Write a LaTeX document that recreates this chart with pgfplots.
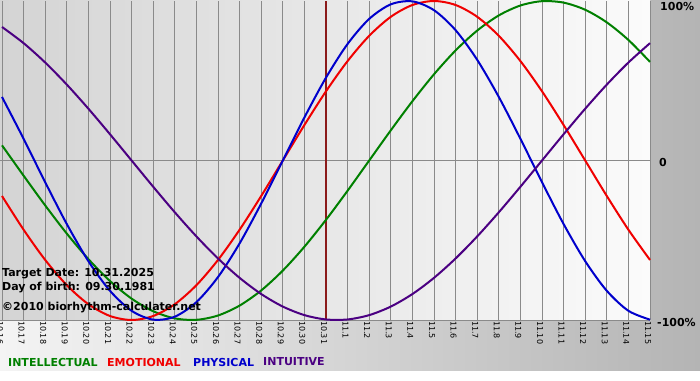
\documentclass[border=0pt]{standalone}
\usepackage{pgfplots}
\pgfplotsset{compat=1.18}
\usepackage{fontspec}
\setmainfont{DejaVu Sans}
\definecolor{cint}{HTML}{008000}
\definecolor{cemo}{HTML}{F00000}
\definecolor{cphy}{HTML}{0000CC}
\definecolor{cintu}{HTML}{4B0082}
\definecolor{gridc}{HTML}{8A8A8A}
\definecolor{tline}{HTML}{8B1A1A}
\definecolor{bgl}{HTML}{F4F4F4}
\definecolor{bgr}{HTML}{B4B4B4}
\definecolor{pal}{HTML}{D4D4D4}
\definecolor{par}{HTML}{FBFBFB}
\begin{document}
\begin{tikzpicture}
\useasboundingbox (0pt,0pt) rectangle (700pt,380pt);
\fill[white] (0pt,0pt) rectangle (700pt,380pt);
\shade[left color=bgl, right color=bgr] (0pt,10pt) rectangle (700pt,380pt);
\begin{axis}[
  at={(0pt,60pt)}, anchor=south west, scale only axis,
  width=650pt, height=319pt,
  xmin=-0.0926, xmax=30, ymin=-1, ymax=1,
  axis line style={draw=none},
  major tick length=0pt,
  xtick={0,...,30},
  xticklabels={10.16,10.17,10.18,10.19,10.20,10.21,10.22,10.23,10.24,10.25,10.26,10.27,10.28,10.29,10.30,10.31,11.1,11.2,11.3,11.4,11.5,11.6,11.7,11.8,11.9,11.10,11.11,11.12,11.13,11.14,11.15},
  xticklabel style={rotate=-90, anchor=west, font=\fontsize{8}{9}\selectfont, inner sep=1pt, yshift=-2pt},
  ytick={-1,0}, yticklabels={},
  xmajorgrids, ymajorgrids,
  grid style={gridc, line width=1pt},
  axis background/.style={left color=pal, right color=par},
  clip=false,
]
\addplot[tline, line width=2pt] coordinates {(15,-1) (15,1)};
% Intellectual
\addplot[cint, line width=2pt, smooth] coordinates {
(0,0.0951) (1,-0.0951) (2,-0.2817) (3,-0.4582) (4,-0.6182) (5,-0.7557) (6,-0.8660) (7,-0.9450) (8,-0.9898) (9,-0.9989) (10,-0.9718) (11,-0.9096) (12,-0.8146) (13,-0.6901) (14,-0.5406) (15,-0.3717) (16,-0.1893) (17,0) (18,0.1893) (19,0.3717) (20,0.5406) (21,0.6901) (22,0.8146) (23,0.9096) (24,0.9718) (25,0.9989) (26,0.9898) (27,0.9450) (28,0.8660) (29,0.7557) (30,0.6182)};
% Emotional
\addplot[cemo, line width=2pt, smooth] coordinates {
(0,-0.2225) (1,-0.4339) (2,-0.6235) (3,-0.7818) (4,-0.9010) (5,-0.9749) (6,-1) (7,-0.9749) (8,-0.9010) (9,-0.7818) (10,-0.6235) (11,-0.4339) (12,-0.2225) (13,0) (14,0.2225) (15,0.4339) (16,0.6235) (17,0.7818) (18,0.9010) (19,0.9749) (20,1) (21,0.9749) (22,0.9010) (23,0.7818) (24,0.6235) (25,0.4339) (26,0.2225) (27,0) (28,-0.2225) (29,-0.4339) (30,-0.6235)};
% Physical
\addplot[cphy, line width=2pt, smooth] coordinates {
(0,0.3984) (1,0.1362) (2,-0.1362) (3,-0.3984) (4,-0.6311) (5,-0.8170) (6,-0.9423) (7,-0.9977) (8,-0.9791) (9,-0.8879) (10,-0.7308) (11,-0.5196) (12,-0.2698) (13,0) (14,0.2698) (15,0.5196) (16,0.7308) (17,0.8879) (18,0.9791) (19,0.9977) (20,0.9423) (21,0.8170) (22,0.6311) (23,0.3984) (24,0.1362) (25,-0.1362) (26,-0.3984) (27,-0.6311) (28,-0.8170) (29,-0.9423) (30,-0.9977)};
% Intuitive
\addplot[cintu, line width=2pt, smooth] coordinates {
(0,0.8372) (1,0.7357) (2,0.6142) (3,0.4759) (4,0.3247) (5,0.1646) (6,0) (7,-0.1646) (8,-0.3247) (9,-0.4759) (10,-0.6142) (11,-0.7357) (12,-0.8372) (13,-0.9158) (14,-0.9694) (15,-0.9966) (16,-0.9966) (17,-0.9694) (18,-0.9158) (19,-0.8372) (20,-0.7357) (21,-0.6142) (22,-0.4759) (23,-0.3247) (24,-0.1646) (25,0) (26,0.1646) (27,0.3247) (28,0.4759) (29,0.6142) (30,0.7357)};
\end{axis}
\begin{scope}[every node/.style={inner sep=0pt, font=\fontsize{11}{13}\selectfont\bfseries}]
\node[anchor=base west] at (2pt,103pt) {Target Date: 10.31.2025};
\node[anchor=base west] at (2pt,90pt) {Day of birth: 09.30.1981};
\node[anchor=base west] at (2pt,70pt) {©2010 biorhythm-calculater.net};
\node[anchor=west] at (660pt,373pt) {100\%};
\node[anchor=west] at (659pt,218pt) {0};
\node[anchor=west] at (657pt,58pt) {-100\%};
\node[anchor=west, text=cint] at (8pt,18pt) {INTELLECTUAL};
\node[anchor=west, text=cemo] at (107pt,18pt) {EMOTIONAL};
\node[anchor=west, text=cphy] at (193pt,18pt) {PHYSICAL};
\node[anchor=west, text=cintu] at (263pt,18pt) {INTUITIVE};
\end{scope}
\end{tikzpicture}
\end{document}
